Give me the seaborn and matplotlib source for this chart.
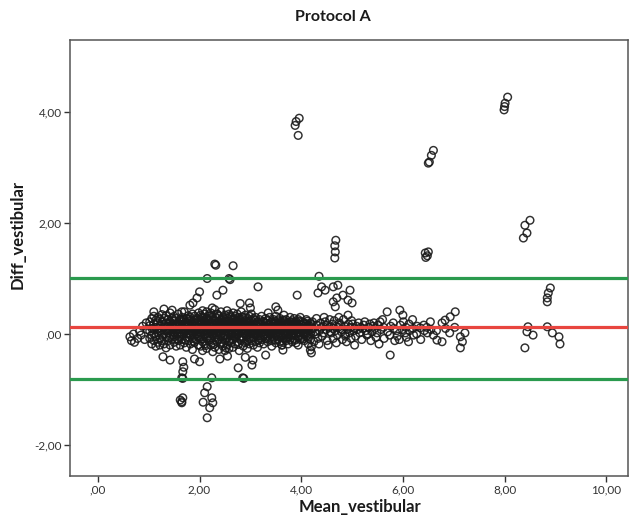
import numpy as np
import pandas as pd
import matplotlib
matplotlib.use("Agg")
import matplotlib.pyplot as plt
import seaborn as sns
from matplotlib.ticker import FuncFormatter

# Dense part of the cloud, stored as (mean, [differences]) columns
cloud_low = [
    (0.63, [-0.05]), (0.66, [-0.12]), (0.70, [0.00]), (0.72, [-0.15]),
    (0.78, [-0.08]), (0.82, [0.05]), (0.85, [-0.02]), (0.88, [0.14]),
    (0.92, [-0.10]), (0.95, [0.20]), (0.97, [0.08]),
    (1.02, [0.22, 0.05, -0.08, 0.15]),
    (1.06, [-0.18, 0.28, 0.10, -0.02]),
    (1.10, [0.18, 0.00, -0.12, 0.32, 0.08]),
    (1.14, [0.25, -0.05, 0.12, -0.22]),
    (1.18, [0.02, 0.20, -0.15, 0.30, 0.10]),
    (1.22, [0.15, -0.08, 0.05, 0.27, -0.20]),
    (1.26, [0.08, 0.22, -0.02, 0.35, -0.12]),
    (1.30, [0.12, -0.18, 0.28, 0.00, 0.18]),
    (1.34, [-0.06, 0.20, 0.06, -0.25, 0.33]),
    (1.38, [0.14, 0.02, 0.26, -0.12, 0.09]),
    (1.42, [0.22, -0.04, 0.10, 0.38, -0.20]),
    (1.46, [0.05, 0.17, -0.10, 0.28, 0.12]),
    (1.50, [0.10, -0.15, 0.24, 0.02, 0.32, -0.05]),
    (1.54, [0.18, 0.06, -0.22, 0.14, 0.28]),
    (1.58, [0.00, 0.20, 0.10, -0.12, 0.36, 0.08]),
    (1.62, [0.15, -0.05, 0.26, 0.04, -0.20]),
    (1.66, [0.08, 0.22, -0.10, 0.14, 0.30, 0.00]),
    (1.70, [0.18, 0.02, -0.16, 0.26, 0.10, 0.40]),
    (1.74, [0.05, 0.15, -0.06, 0.28, -0.24, 0.12]),
    (1.78, [0.20, 0.08, -0.12, 0.33, 0.00, 0.16]),
    (1.82, [0.12, -0.02, 0.24, 0.06, -0.18, 0.30]),
    (1.86, [0.02, 0.18, 0.10, -0.08, 0.36, -0.28]),
    (1.90, [0.14, 0.25, -0.04, 0.08, -0.15, 0.32]),
    (1.94, [0.06, 0.20, -0.10, 0.12, 0.28, 0.00]),
    (1.98, [0.16, -0.06, 0.24, 0.04, -0.20, 0.38]),
]

cloud_mid = [
    (2.02, [0.10, 0.26, -0.05, 0.18, -0.22, 0.34, 0.02]),
    (2.06, [0.20, 0.04, -0.14, 0.30, 0.12, -0.30, 0.42]),
    (2.10, [0.08, 0.22, -0.02, 0.15, -0.18, 0.36, 0.00]),
    (2.14, [0.16, -0.08, 0.28, 0.06, -0.26, 0.12, 0.40]),
    (2.18, [0.02, 0.18, 0.10, -0.12, 0.32, -0.04, 0.24]),
    (2.22, [0.14, -0.20, 0.26, 0.04, 0.38, -0.10, 0.08]),
    (2.26, [0.20, 0.00, -0.16, 0.12, 0.30, -0.32, 0.06]),
    (2.30, [0.06, 0.24, -0.06, 0.16, -0.24, 0.44, 0.10]),
    (2.34, [0.18, 0.02, 0.28, -0.14, 0.10, -0.02, 0.36]),
    (2.38, [0.10, -0.10, 0.22, 0.04, -0.28, 0.32, 0.14]),
    (2.42, [0.00, 0.16, 0.26, -0.18, 0.08, 0.40, -0.06]),
    (2.46, [0.14, -0.04, 0.20, 0.06, -0.22, 0.30, 0.10]),
    (2.50, [0.22, 0.08, -0.12, 0.16, 0.34, -0.02, -0.30]),
    (2.54, [0.04, 0.18, 0.12, -0.08, 0.28, -0.20, 0.42]),
    (2.58, [0.12, -0.14, 0.24, 0.02, 0.18, -0.26, 0.36]),
    (2.62, [0.08, 0.20, -0.02, 0.30, -0.16, 0.14, 0.00]),
    (2.66, [0.16, 0.02, -0.10, 0.26, 0.10, -0.24, 0.38]),
    (2.70, [0.06, 0.22, 0.12, -0.06, 0.32, -0.18, 0.00]),
    (2.74, [0.14, -0.02, 0.24, 0.08, -0.14, 0.36, 0.18]),
    (2.78, [0.10, 0.26, -0.08, 0.16, 0.02, -0.30, 0.30]),
    (2.82, [0.18, 0.04, -0.12, 0.22, 0.12, 0.40, -0.04]),
    (2.86, [0.08, -0.06, 0.20, 0.14, -0.22, 0.30, 0.02]),
    (2.90, [0.12, 0.24, 0.00, -0.16, 0.18, 0.34, 0.06]),
    (2.94, [0.16, -0.10, 0.08, 0.28, -0.02, 0.20, -0.26]),
    (2.98, [0.04, 0.20, 0.12, -0.08, 0.32, 0.10, -0.18]),
]

cloud_high = [
    (3.02, [0.14, 0.00, 0.24, -0.12, 0.08, 0.36]),
    (3.06, [0.06, 0.20, -0.06, 0.12, -0.20, 0.28]),
    (3.10, [0.18, 0.02, 0.10, -0.14, 0.30, 0.04]),
    (3.14, [0.08, 0.22, -0.04, 0.14, -0.24, 0.00]),
    (3.18, [0.12, -0.08, 0.26, 0.04, 0.18, -0.16]),
    (3.22, [0.02, 0.16, 0.10, -0.10, 0.32, 0.06]),
    (3.26, [0.14, -0.02, 0.22, 0.08, -0.18, 0.12]),
    (3.30, [0.06, 0.20, -0.08, 0.14, 0.28, 0.00]),
    (3.34, [0.16, 0.04, -0.14, 0.10, 0.24, -0.04]),
    (3.38, [0.10, -0.06, 0.18, 0.02, 0.30, 0.12]),
    (3.42, [0.04, 0.14, -0.12, 0.22, 0.08, -0.22]),
    (3.46, [0.18, 0.00, 0.10, -0.06, 0.26, 0.06]),
    (3.50, [0.08, 0.20, -0.02, 0.14, -0.16, 0.32]),
    (3.54, [0.12, -0.10, 0.24, 0.04, 0.16, 0.00]),
    (3.58, [0.02, 0.18, 0.08, -0.14, 0.28, 0.12]),
    (3.62, [0.14, -0.04, 0.20, 0.06, -0.20, 0.10]),
    (3.66, [0.06, 0.16, -0.08, 0.24, 0.02, 0.34]),
    (3.70, [0.18, 0.04, -0.12, 0.12, 0.26, -0.02]),
    (3.74, [0.10, -0.06, 0.20, 0.00, 0.14, -0.18]),
    (3.78, [0.04, 0.22, 0.08, -0.10, 0.30, 0.12]),
    (3.82, [0.14, -0.02, 0.18, 0.06, -0.14, 0.24]),
    (3.86, [0.08, 0.20, -0.08, 0.12, 0.02, 0.28]),
    (3.90, [0.16, 0.00, 0.10, -0.16, 0.22, 0.06]),
    (3.94, [0.04, 0.14, -0.04, 0.26, 0.10, -0.20]),
    (3.98, [0.12, -0.10, 0.18, 0.02, 0.08, 0.30]),
    (4.02, [0.06, 0.16, -0.06, 0.10, 0.22]),
    (4.06, [0.14, 0.00, 0.20, -0.12, 0.08]),
    (4.10, [0.02, 0.18, 0.10, -0.04, 0.26]),
    (4.14, [0.12, -0.08, 0.16, 0.06, -0.18]),
    (4.18, [0.08, 0.20, 0.00, 0.14, -0.10]),
]

# Extra observations packed around the bias line in the busiest range
cloud_core = [
    (1.40, [0.07, 0.19, -0.07]), (1.48, [0.13, -0.01, 0.23]),
    (1.56, [0.03, 0.16, -0.09]), (1.64, [0.11, 0.25, -0.03]),
    (1.72, [0.07, -0.11, 0.21]), (1.80, [0.15, 0.01, 0.27]),
    (1.88, [0.05, 0.21, -0.13]), (1.96, [0.11, -0.03, 0.19]),
    (2.04, [0.07, 0.23, -0.09, 0.31]), (2.12, [0.13, -0.05, 0.27, -0.21]),
    (2.20, [0.09, 0.19, -0.07, 0.33]), (2.28, [0.03, 0.15, 0.25, -0.19]),
    (2.36, [0.11, -0.09, 0.21, 0.35]), (2.44, [0.05, 0.19, -0.15, 0.27]),
    (2.52, [0.13, -0.03, 0.23, -0.25]), (2.60, [0.07, 0.17, -0.11, 0.33]),
    (2.68, [0.11, -0.05, 0.21, 0.29]), (2.76, [0.03, 0.15, -0.19, 0.25]),
    (2.84, [0.09, 0.21, -0.07, 0.31]), (2.92, [0.13, -0.03, 0.23, -0.13]),
    (3.00, [0.07, 0.17, -0.09]), (3.08, [0.11, -0.01, 0.25]),
    (3.16, [0.05, 0.19, -0.11]), (3.24, [0.09, 0.23, -0.05]),
    (3.32, [0.13, -0.09, 0.19]), (3.40, [0.05, 0.21, -0.01]),
    (3.48, [0.11, -0.11, 0.23]), (3.56, [0.07, 0.17, -0.05]),
    (3.64, [0.09, 0.25, -0.13]), (3.72, [0.05, 0.19, -0.07]),
    (3.80, [0.11, -0.03, 0.21]), (3.88, [0.07, 0.17, -0.11]),
    (3.96, [0.13, -0.05, 0.23]), (4.04, [0.03, 0.19, -0.09]),
    (4.12, [0.09, 0.23, -0.03]), (4.20, [0.05, 0.17]),
]

# Thinner part of the cloud, single (mean, difference) pairs
cloud_tail = [
    (4.23, 0.10), (4.25, -0.14), (4.22, 0.22), (4.27, 0.04), (4.31, 0.16),
    (4.29, 0.00), (4.33, -0.08), (4.30, 0.28), (4.36, 0.06), (4.38, 0.20),
    (4.35, -0.18), (4.40, 0.12), (4.43, 0.14), (4.41, -0.04), (4.45, 0.30),
    (4.44, 0.02), (4.49, 0.08), (4.47, 0.22), (4.51, -0.12), (4.50, 0.16),
    (4.55, 0.12), (4.53, -0.20), (4.57, 0.04), (4.56, 0.26), (4.61, 0.18),
    (4.59, 0.02), (4.63, -0.08), (4.62, 0.10), (4.67, 0.06), (4.65, 0.24),
    (4.69, -0.16), (4.68, 0.14), (4.73, 0.12), (4.71, -0.02), (4.75, 0.20),
    (4.74, 0.30), (4.79, 0.04), (4.77, 0.16), (4.81, -0.10), (4.80, 0.08),
    (4.85, 0.14), (4.83, 0.26), (4.87, -0.04), (4.86, 0.00), (4.91, 0.08),
    (4.89, -0.14), (4.93, 0.18), (4.92, 0.34), (4.97, 0.12), (4.95, 0.02),
    (4.99, 0.24), (4.98, -0.08), (5.03, 0.06), (5.01, 0.18), (5.05, -0.20),
    (5.04, 0.10), (5.09, 0.14), (5.07, -0.04), (5.11, 0.08), (5.15, 0.02),
    (5.13, 0.20), (5.17, 0.12), (5.21, 0.10), (5.19, -0.10), (5.23, 0.16),
    (5.27, 0.06), (5.25, 0.22), (5.29, -0.02), (5.33, 0.12), (5.31, 0.00),
    (5.35, 0.18), (5.39, 0.04), (5.37, -0.12), (5.41, 0.14), (5.45, 0.10),
    (5.43, 0.20), (5.47, -0.06), (5.51, 0.16), (5.49, 0.02), (5.53, -0.18),
    (5.57, 0.08), (5.55, 0.22),
    (5.62, 0.12), (5.63, -0.08), (5.60, 0.26), (5.69, 0.40), (5.70, 0.04),
    (5.75, -0.38), (5.76, 0.14), (5.74, -0.02), (5.82, 0.10), (5.81, 0.20),
    (5.84, -0.12), (5.88, 0.06), (5.89, -0.04), (5.94, 0.43), (5.95, 0.16),
    (5.93, -0.10), (6.00, 0.34), (5.99, 0.08), (6.01, 0.22), (6.06, 0.12),
    (6.07, -0.06), (6.05, 0.02), (6.12, 0.18), (6.13, 0.06), (6.11, -0.14),
    (6.20, 0.10), (6.19, 0.26), (6.21, -0.02), (6.28, 0.14), (6.27, 0.00),
    (6.34, 0.11), (6.35, -0.10), (6.42, 0.06), (6.41, 0.16), (6.48, 0.02),
    (6.47, 0.12), (6.54, 0.22), (6.55, 0.08), (6.60, -0.02), (6.67, -0.11),
    (6.66, 0.06), (6.77, 0.20), (6.77, -0.14), (6.83, 0.25), (6.84, 0.10),
    (6.93, 0.31), (6.92, 0.02), (7.03, 0.40), (7.02, 0.12), (7.13, -0.05),
    (7.13, -0.25), (7.17, -0.14), (7.22, 0.02),
]

# Points lying off the main band
scatter_off = [
    (2.00, 0.76), (1.95, 0.65), (1.87, 0.56), (1.81, 0.52), (1.46, 0.43),
    (1.65, 0.40), (2.30, 1.26), (2.32, 1.24), (2.66, 1.23), (2.15, 1.00),
    (2.58, 1.00), (2.60, 0.98), (2.34, 0.70), (2.46, 0.79), (3.15, 0.85),
    (3.92, 0.70), (2.98, 0.56), (3.00, 0.47), (3.50, 0.49), (3.54, 0.43),
    (3.35, 0.38), (2.25, 0.47), (4.35, 1.04), (4.40, 0.85), (4.33, 0.74),
    (4.47, 0.79), (4.63, 0.85), (4.72, 0.88), (4.70, 0.65), (4.82, 0.70),
    (4.96, 0.79), (4.92, 0.61), (5.00, 0.56), (4.63, 0.58), (4.67, 0.49),
    (1.10, 0.40), (1.30, 0.45), (2.80, 0.55),
    (1.28, -0.41), (1.42, -0.47), (1.67, -0.50), (1.69, -0.60), (1.67, -0.68),
    (1.65, -0.79), (1.67, -0.80), (1.62, -1.19), (1.65, -1.24), (1.67, -1.15),
    (1.65, -1.22), (2.24, -0.79), (2.15, -0.95), (2.10, -1.06), (2.07, -1.23),
    (2.24, -1.15), (2.26, -1.24), (2.20, -1.33), (2.15, -1.51), (2.85, -0.79),
    (2.87, -0.80), (2.76, -0.61), (3.64, -0.29), (3.62, -0.20), (3.05, -0.47),
    (3.03, -0.56), (4.20, -0.34), (4.18, -0.29), (4.20, -0.23), (2.40, -0.45),
    (2.55, -0.40), (2.00, -0.50), (2.90, -0.42), (1.90, -0.45), (3.30, -0.38),
]

# Isolated groups of large differences
scatter_groups = [
    (3.96, 3.89), (3.90, 3.83), (3.88, 3.76), (3.94, 3.58),
    (8.06, 4.27), (8.01, 4.16), (8.00, 4.10), (7.99, 4.04),
    (6.60, 3.31), (6.56, 3.22), (6.52, 3.10), (6.50, 3.08),
    (4.68, 1.69), (4.66, 1.59), (4.67, 1.48), (4.66, 1.37),
    (6.50, 1.48), (6.44, 1.46), (6.45, 1.38), (6.48, 1.41),
    (8.50, 2.05), (8.40, 1.96), (8.44, 1.82), (8.37, 1.73),
    (8.90, 0.83), (8.86, 0.74), (8.84, 0.65), (8.84, 0.58),
    (8.46, 0.13), (8.44, 0.04), (8.56, -0.02), (8.40, -0.25),
    (8.84, 0.13), (8.94, 0.02), (9.07, -0.05), (9.09, -0.18),
]

mean_diff = 0.12
upper_loa = 1.01
lower_loa = -0.81

x_ticks = [0, 2, 4, 6, 8, 10]
y_ticks = [-2, 0, 2, 4]

# Assemble the long table
means, diffs = [], []
for columns in (cloud_low, cloud_mid, cloud_high, cloud_core):
    for m, ds in columns:
        for d in ds:
            means.append(m)
            diffs.append(d)
for pairs in (cloud_tail, scatter_off, scatter_groups):
    for m, d in pairs:
        means.append(m)
        diffs.append(d)
df = pd.DataFrame({"Mean_vestibular": means, "Diff_vestibular": diffs})

sns.set_theme(style="ticks")
plt.rcParams["font.family"] = ["Lato", "DejaVu Sans"]

fig = plt.figure(figsize=(6.3, 5.16), dpi=100)
fig.patch.set_facecolor("white")
ax = fig.add_axes([0.111, 0.0775, 0.886, 0.845])

sns.scatterplot(data=df, x="Mean_vestibular", y="Diff_vestibular", ax=ax,
                marker="o", s=30, facecolors="none", edgecolor="#1a1a1a",
                linewidth=1.05, alpha=0.9, zorder=2)

ax.axhline(upper_loa, color="#2a9a4e", lw=2.3, zorder=3)
ax.axhline(lower_loa, color="#2a9a4e", lw=2.3, zorder=3)
ax.axhline(mean_diff, color="#e8453f", lw=2.3, zorder=3)

ax.set_xlim(-0.55, 10.43)
ax.set_ylim(-2.56, 5.30)
ax.set_xticks(x_ticks)
ax.set_yticks(y_ticks)


def spss_fmt(v, pos=None):
    s = f"{v:.2f}".replace(".", ",")
    if s.startswith("0,"):
        s = s[1:]
    return s


ax.xaxis.set_major_formatter(FuncFormatter(spss_fmt))
ax.yaxis.set_major_formatter(FuncFormatter(spss_fmt))
ax.tick_params(axis="both", labelsize=8.5, colors="#333333", length=4,
               width=1.0, direction="out", pad=2)
for side in ("left", "bottom", "top", "right"):
    ax.spines[side].set_color("#555555")
    ax.spines[side].set_linewidth(1.1)

ax.set_xlabel("Mean_vestibular", fontsize=12, fontweight="bold", color="#1a1a1a")
ax.set_ylabel("Diff_vestibular", fontsize=12, fontweight="bold", color="#1a1a1a")
ax.xaxis.set_label_coords(0.52, -0.052)
ax.yaxis.set_label_coords(-0.08, 0.553)
fig.text(0.528, 0.967, "Protocol A", ha="center", va="center",
         fontsize=11.5, fontweight="bold", color="#1a1a1a")

fig.savefig("out.png", dpi=100, facecolor="white")
